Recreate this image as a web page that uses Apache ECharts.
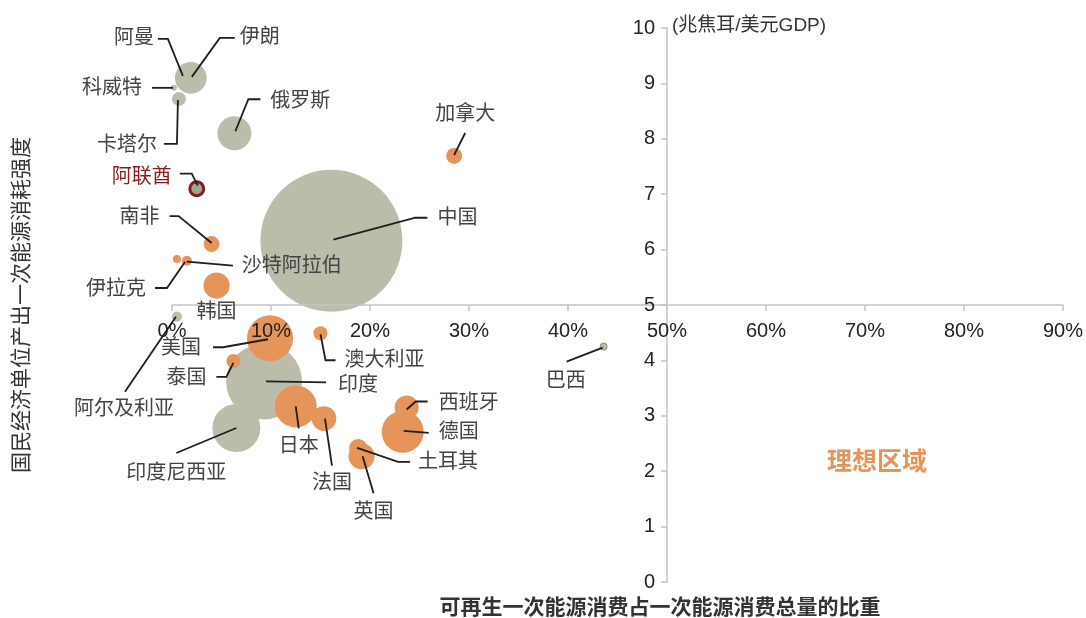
<!DOCTYPE html>
<html>
<head>
<meta charset="utf-8">
<script src="https://cdn.jsdelivr.net/npm/echarts@6/dist/echarts.min.js"></script>
<style>
  html, body { margin: 0; padding: 0; background: #fff; }
  #main { width: 1086px; height: 618px; }
</style>
</head>
<body>
<div id="main"></div>
<script>
// 各国数据
var countries = ['阿曼', '伊朗', '科威特', '卡塔尔', '俄罗斯', '阿联酋', '南非', '伊拉克', '沙特阿拉伯', '韩国',
  '中国', '加拿大', '巴西', '阿尔及利亚', '美国', '泰国', '印度', '印度尼西亚', '日本', '法国',
  '澳大利亚', '西班牙', '德国', '土耳其', '英国'];
// 可再生一次能源消费占比 (%)
var renewShare = [1.1, 1.9, 0.2, 0.7, 6.3, 2.5, 4.0, 0.5, 1.5, 4.5,
  16.1, 28.5, 43.6, 0.5, 9.9, 6.2, 9.3, 6.5, 12.5, 15.35,
  15.0, 23.7, 23.3, 18.8, 19.15];
// 能耗强度 (兆焦耳/美元GDP)
var intensity = [9.1, 9.1, 8.92, 8.72, 8.1, 7.1, 6.1, 5.83, 5.8, 5.35,
  6.16, 7.69, 4.25, 4.79, 4.4, 3.99, 3.62, 2.78, 3.17, 2.95,
  4.49, 3.15, 2.71, 2.42, 2.27];
// 气泡大小 (相对值)
var bubble = [1, 28, 1, 5.4, 32, 5.4, 7, 1.8, 2.8, 19,
  560, 7, 1.4, 2.8, 59, 5.4, 160, 64, 49, 17,
  5.4, 16, 49, 9, 19];
// g: 灰色  o: 橙色  u: 阿联酋
var group = ['g', 'g', 'g', 'g', 'g', 'u', 'o', 'o', 'o', 'o',
  'g', 'o', 'g', 'g', 'o', 'o', 'g', 'g', 'o', 'o',
  'o', 'o', 'o', 'o', 'o'];
var xTicks = [0, 10, 20, 30, 40, 50, 60, 70, 80, 90];

// 标签位置 (相对气泡中心的像素偏移) 和引线
var labelPlace = {
  '阿曼': {t: [-29, -39], a: 'right', l: [[0, -2], [-15, -39], [-25, -39]]},
  '伊朗': {t: [49, -40], a: 'left', l: [[1, -1], [29, -40], [44, -40]]},
  '科威特': {t: [-32, 1], a: 'right', l: [[-1, 0], [-22, 0]]},
  '卡塔尔': {t: [-22, 47], a: 'right', l: [[-1, 1], [-2, 45], [-15, 45]]},
  '俄罗斯': {t: [36, -32], a: 'left', l: [[1, -2], [14, -34], [26, -34]]},
  '阿联酋': {t: [-25, -11], a: 'right', l: [[1, -3], [-5, -15], [-17, -15]]},
  '南非': {t: [-52, -27], a: 'right', l: [[0, -1], [-33, -28], [-42, -28]]},
  '伊拉克': {t: [-31, 30], a: 'right', l: [[8, 3], [-10, 29], [-22, 29]]},
  '沙特阿拉伯': {t: [55, 6], a: 'left', l: [[0, 1], [46, 5]]},
  '韩国': {t: [0, 27], a: 'center', l: []},
  '中国': {t: [106, -22], a: 'left', l: [[2, -1], [84, -23], [96, -23]]},
  '加拿大': {t: [11, -41], a: 'center', l: [[0, -1], [11, -23]]},
  '巴西': {t: [-38, 35], a: 'center', l: [[-1, 1], [-37, 15]]},
  '阿尔及利亚': {t: [-53, 93], a: 'center', l: [[-1, 0], [-52, 75]]},
  '美国': {t: [-69, 10], a: 'right', l: [[-2, 1], [-47, 9], [-57, 9]]},
  '泰国': {t: [-27, 18], a: 'right', l: [[0, 2], [-7, 16], [-17, 16]]},
  '印度': {t: [74, 4], a: 'left', l: [[2, 0], [62, 1]]},
  '印度尼西亚': {t: [-60, 45], a: 'center', l: [[0, 0], [-60, 25]]},
  '日本': {t: [3, 40], a: 'center', l: [[0, 0], [3, 22]]},
  '法国': {t: [8, 65], a: 'center', l: [[1, 0], [8, 47]]},
  '澳大利亚': {t: [24, 27], a: 'left', l: [[0, 1], [5, 27], [15, 27]]},
  '西班牙': {t: [32, -4], a: 'left', l: [[0, 2], [9, -6], [21, -6]]},
  '德国': {t: [36, 1], a: 'left', l: [[1, -1], [26, 1]]},
  '土耳其': {t: [60, 15], a: 'left', l: [[-1, 0], [40, 14], [52, 14]]},
  '英国': {t: [12, 56], a: 'center', l: [[1, 0], [12, 37]]}
};

var FONT = "'Liberation Sans', 'Noto Sans CJK SC', sans-serif";
var ORANGE = '#e6955a';
var GREY = '#bcbcab';

function pick(g) {
  var out = [];
  for (var i = 0; i < countries.length; i++) {
    if (group[i] !== g) continue;
    var item = {value: [renewShare[i], intensity[i], bubble[i], i]};
    if (countries[i] === '巴西') {
      item.itemStyle = {borderColor: '#8c8c7c', borderWidth: 1};
    }
    out.push(item);
  }
  return out;
}
function sizeOf(val) {
  return 6 * Math.sqrt(val[2]);
}

var labelData = countries.map(function (c, i) {
  return [renewShare[i], intensity[i], i];
});

var myChart = echarts.init(document.getElementById('main'));
var hidden = {
  axisLine: {show: false}, axisTick: {show: false},
  axisLabel: {show: false}, splitLine: {show: false}
};
var option = {
  animation: false,
  textStyle: {fontFamily: FONT},
  grid: [
    {left: 172, right: 23, top: 28, bottom: 36, outerBoundsMode: 'none', containLabel: false},
    {left: 172, right: 23, top: 28, bottom: 313, outerBoundsMode: 'none', containLabel: false},
    {left: 667, right: 23, top: 28, bottom: 36, outerBoundsMode: 'none', containLabel: false}
  ],
  xAxis: [
    Object.assign({
      gridIndex: 0, type: 'value', min: 0, max: 90,
      name: '可再生一次能源消费占一次能源消费总量的比重',
      nameLocation: 'middle', nameGap: 16,
      nameTextStyle: {fontSize: 21, fontWeight: 'bold', color: '#333', padding: [0, 0, 0, 85], verticalAlign: 'top'}
    }, hidden),
    {
      gridIndex: 1, type: 'value', min: 0, max: 90, interval: 10, z: 3,
      axisLine: {lineStyle: {color: '#c4c4c4', width: 1.5}},
      axisTick: {show: true, length: 6, lineStyle: {color: '#c4c4c4', width: 1.5}},
      axisLabel: {
        fontSize: 20, color: '#222', margin: 16,
        formatter: function (v) { return xTicks.indexOf(v) >= 0 ? v + '%' : ''; }
      },
      splitLine: {show: false}
    },
    Object.assign({gridIndex: 2, type: 'value', min: 50, max: 90}, hidden)
  ],
  yAxis: [
    Object.assign({
      gridIndex: 0, type: 'value', min: 0, max: 10,
      name: '国民经济单位产出一次能源消耗强度',
      nameLocation: 'middle', nameGap: 139,
      nameTextStyle: {fontSize: 21, color: '#333'}
    }, hidden),
    Object.assign({gridIndex: 1, type: 'value', min: 5, max: 10}, hidden),
    {
      gridIndex: 2, type: 'value', min: 0, max: 10, interval: 1, z: 3,
      name: '(兆焦耳/美元GDP)', nameLocation: 'end', nameGap: 2,
      nameTextStyle: {fontSize: 19, color: '#333', align: 'left', verticalAlign: 'middle', padding: [0, 0, 0, 5]},
      axisLine: {lineStyle: {color: '#c4c4c4', width: 1.5}},
      axisTick: {show: true, length: 6, lineStyle: {color: '#c4c4c4', width: 1.5}},
      axisLabel: {fontSize: 20, color: '#222', margin: 12},
      splitLine: {show: false}
    }
  ],
  series: [
    {
      type: 'scatter', xAxisIndex: 0, yAxisIndex: 0, data: pick('g'),
      symbolSize: sizeOf,
      itemStyle: {color: GREY, borderWidth: 0, opacity: 1}
    },
    {
      type: 'scatter', xAxisIndex: 0, yAxisIndex: 0, data: pick('o'),
      symbolSize: sizeOf,
      itemStyle: {color: ORANGE, borderWidth: 0, opacity: 1},
      markPoint: {
        symbolSize: 0,
        label: {show: true, formatter: '理想区域', fontSize: 25, fontWeight: 'bold', color: ORANGE, fontFamily: FONT},
        data: [{coord: [71.2, 2.14]}]
      }
    },
    {
      type: 'scatter', xAxisIndex: 0, yAxisIndex: 0, data: pick('u'),
      symbolSize: sizeOf,
      itemStyle: {color: '#a0a58f', borderColor: '#7b1f1f', borderWidth: 3, opacity: 1}
    },
    {
      type: 'custom', xAxisIndex: 0, yAxisIndex: 0, data: labelData, z: 5, clip: false,
      renderItem: function (params, api) {
        var i = api.value(2);
        var name = countries[i];
        var place = labelPlace[name];
        var p = api.coord([api.value(0), api.value(1)]);
        var children = [];
        if (place.l.length) {
          children.push({
            type: 'polyline',
            shape: {points: place.l.map(function (d) { return [p[0] + d[0], p[1] + d[1]]; })},
            style: {stroke: '#1e1e1e', lineWidth: 1.8, fill: null}
          });
        }
        children.push({
          type: 'text',
          x: p[0] + place.t[0], y: p[1] + place.t[1],
          style: {
            text: name, align: place.a, verticalAlign: 'middle',
            fontSize: 20, fontFamily: FONT,
            fill: name === '阿联酋' ? '#8b1a1a' : '#444'
          }
        });
        return {type: 'group', children: children};
      }
    }
  ]
};
myChart.setOption(option);
</script>
</body>
</html>
